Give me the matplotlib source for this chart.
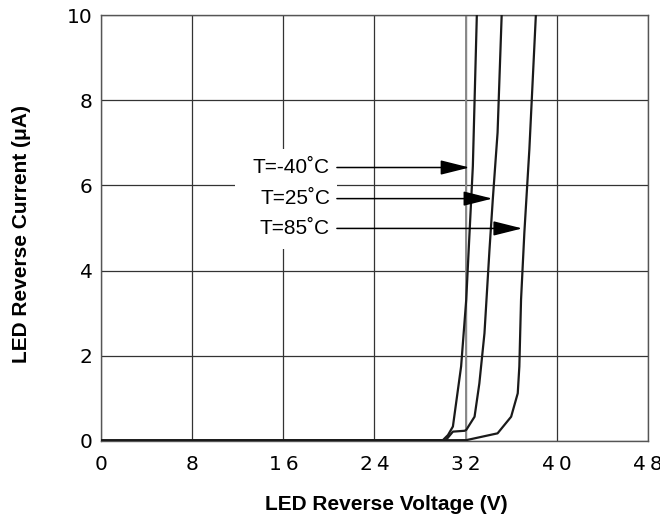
import matplotlib.pyplot as plt
from matplotlib.patches import Rectangle

plt.rcParams['font.family'] = ['Liberation Sans', 'DejaVu Sans']

# courbes (tension en V, courant en uA)
v_m40 = [0, 30.0, 30.45, 30.88, 31.6, 32.05, 32.34, 32.63, 32.98]
i_m40 = [0, 0.02, 0.14, 0.34, 1.75, 3.32, 4.89, 6.45, 10.0]

v_25 = [0, 30.2, 30.88, 31.9, 32.05, 32.78, 33.2, 33.65, 34.09, 34.38, 34.8, 35.16]
i_25 = [0, 0.0, 0.22, 0.24, 0.26, 0.57, 1.35, 2.53, 4.49, 5.67, 7.24, 10.0]

v_85 = [0, 32.05, 34.8, 35.99, 36.57, 36.71, 36.86, 37.15, 37.59, 38.16]
i_85 = [0, 0.02, 0.18, 0.57, 1.12, 1.75, 3.32, 4.89, 6.85, 10.0]

labels = ["T=-40˚C", "T=25˚C", "T=85˚C"]
arrow_y = [6.42, 5.69, 4.99]
arrow_x = [32.34, 34.35, 36.97]

xticks = [0, 8, 16, 24, 32, 40, 48]
yticks = [0, 2, 4, 6, 8, 10]

fig = plt.figure(figsize=(6.6, 5.17), dpi=100)
ax = fig.add_axes([101/660, 76/517, 547/660, 426/517])

for v, c in [(v_m40, i_m40), (v_25, i_25), (v_85, i_85)]:
    ax.plot(v, c, color='#1a1a1a', lw=1.6, zorder=4, solid_joinstyle='round')
# ligne de base plus epaisse
ax.plot([0, 30], [0, 0], color='#1a1a1a', lw=2.8, zorder=4)

ax.set_xlim(0, 48)
ax.set_ylim(0, 10)
ax.set_xticks(xticks)
ax.set_yticks(yticks)
ax.set_xticklabels(["\u2009".join(str(t)) for t in xticks], fontsize=14.5,
                   family='DejaVu Sans')
ax.set_yticklabels([str(t) for t in yticks], fontsize=14.5, family='DejaVu Sans')
ax.tick_params(length=0)
ax.tick_params(axis='y', pad=6)
ax.tick_params(axis='x', pad=10)
ax.grid(True, color='#333333', lw=0.9)
ax.set_axisbelow(True)
# la ligne a 32 V est plus claire
ax.axvline(32, color='#8a8a8a', lw=1.4, zorder=1)
for s in ax.spines.values():
    s.set_color('#555555')
    s.set_linewidth(1.0)

# fond blanc derriere les etiquettes
ax.add_patch(Rectangle((11.8, 4.5), 8.9, 2.35, facecolor='white',
                       edgecolor='none', zorder=2))

for lab, y, x in zip(labels, arrow_y, arrow_x):
    ax.text(20.1, y, lab, ha='right', va='center', fontsize=15, zorder=3)
    ax.annotate("", xy=(x, y), xytext=(20.7, y), zorder=5,
                arrowprops=dict(arrowstyle='-|>,head_length=1.8,head_width=0.45',
                                color='black', lw=1.1, shrinkA=0, shrinkB=0))

ax.set_xlabel("LED Reverse Voltage (V)", fontsize=15, fontweight='bold')
ax.xaxis.set_label_coords(0.522, -0.127)
ax.set_ylabel("LED Reverse Current (μA)", fontsize=15, fontweight='bold')
ax.yaxis.set_label_coords(-0.128, 0.485)

fig.savefig("out.png", dpi=100)
